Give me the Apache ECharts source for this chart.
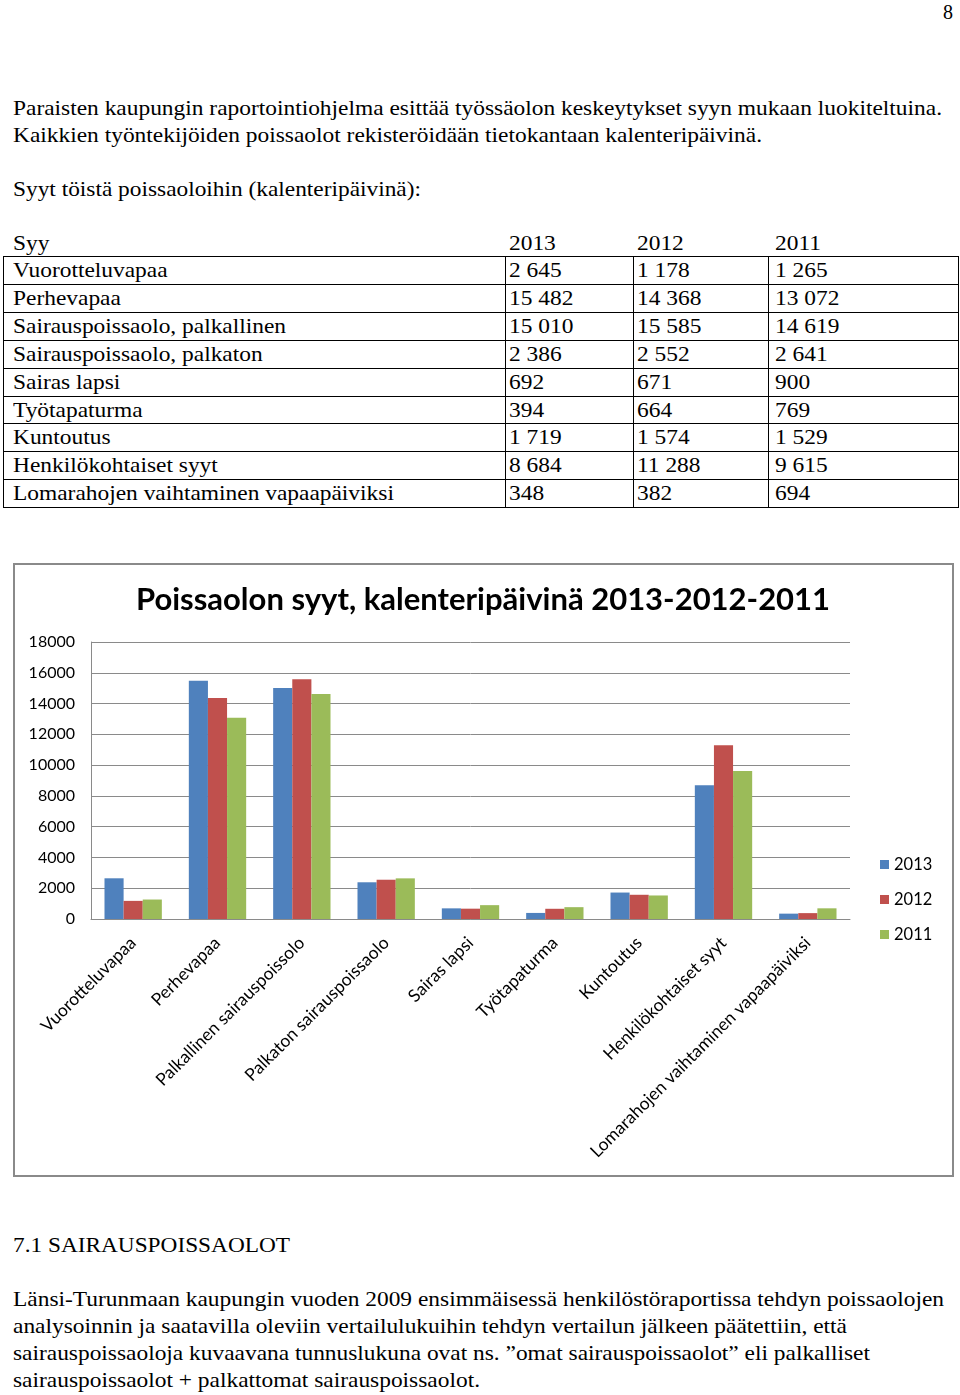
<!DOCTYPE html>
<html>
<head>
<meta charset="utf-8">
<script src="https://cdn.jsdelivr.net/npm/echarts@6/dist/echarts.min.js"></script>
<style>
  html, body { margin: 0; padding: 0; background: #fff; }
  body { width: 960px; height: 1395px; position: relative; overflow: hidden; font-family: "Liberation Serif", Tinos, "Times New Roman", serif; color: #000; }
  .t { position: absolute; white-space: nowrap; font-size: 22px; line-height: 28px; transform-origin: 0 50%; display: inline-block; }
  .hl { position: absolute; background: #000; }
  #chartBox { position: absolute; left: 13px; top: 563px; width: 937px; height: 610px; border: 2px solid #8a8a8a; }
  #chart { width: 937px; height: 610px; }
</style>
</head>
<body>
<div id="page"></div>
<div id="chartBox"><div id="chart"></div></div>
<script>
// ---------- data ----------
const years = ['2013', '2012', '2011'];
const tableLabels = ['Vuorotteluvapaa', 'Perhevapaa', 'Sairauspoissaolo, palkallinen', 'Sairauspoissaolo, palkaton', 'Sairas lapsi', 'Työtapaturma', 'Kuntoutus', 'Henkilökohtaiset syyt', 'Lomarahojen vaihtaminen vapaapäiviksi'];
const categories = ['Vuorotteluvapaa', 'Perhevapaa', 'Palkallinen sairauspoissolo', 'Palkaton sairauspoissaolo', 'Sairas lapsi', 'Työtapaturma', 'Kuntoutus', 'Henkilökohtaiset syyt', 'Lomarahojen vaihtaminen vapaapäiviksi'];
const values2013 = [2645, 15482, 15010, 2386, 692, 394, 1719, 8684, 348];
const values2012 = [1178, 14368, 15585, 2552, 671, 664, 1574, 11288, 382];
const values2011 = [1265, 13072, 14619, 2641, 900, 769, 1529, 9615, 694];
const yTicks = [0, 2000, 4000, 6000, 8000, 10000, 12000, 14000, 16000, 18000];
const chartTitle = 'Poissaolon syyt, kalenteripäivinä 2013-2012-2011';
const introLines = [
  'Paraisten kaupungin raportointiohjelma esittää työssäolon keskeytykset syyn mukaan luokiteltuina.',
  'Kaikkien työntekijöiden poissaolot rekisteröidään tietokantaan kalenteripäivinä.'
];
const tableIntro = 'Syyt töistä poissaoloihin (kalenteripäivinä):';
const tableHead = 'Syy';
const sectionTitle = '7.1 SAIRAUSPOISSAOLOT';
const paraLines = [
  'Länsi-Turunmaan kaupungin vuoden 2009 ensimmäisessä henkilöstöraportissa tehdyn poissaolojen',
  'analysoinnin ja saatavilla oleviin vertailulukuihin tehdyn vertailun jälkeen päätettiin, että',
  'sairauspoissaoloja kuvaavana tunnuslukuna ovat ns. ”omat sairauspoissaolot” eli palkalliset',
  'sairauspoissaolot + palkattomat sairauspoissaolot.'
];

// ---------- document text ----------
const page = document.getElementById('page');
function fmt(n) { return String(n).replace(/\B(?=(\d{3})+(?!\d))/g, ' '); }
function addText(txt, x, cy, targetW, size) {
  const d = document.createElement('div');
  d.className = 't';
  d.textContent = txt;
  d.style.left = x + 'px';
  d.style.top = (cy - 14) + 'px';
  if (size) d.style.fontSize = size + 'px';
  page.appendChild(d);
  d._targetW = targetW;
  return d;
}
function hline(x, y, w) { const d = document.createElement('div'); d.className = 'hl'; d.style.left = x + 'px'; d.style.top = y + 'px'; d.style.width = w + 'px'; d.style.height = '1px'; page.appendChild(d); }
function vline(x, y, h) { const d = document.createElement('div'); d.className = 'hl'; d.style.left = x + 'px'; d.style.top = y + 'px'; d.style.width = '1px'; d.style.height = h + 'px'; page.appendChild(d); }

const fitted = [];
const loose = [];
fitted.push(addText('8', 943, 12, 10));
fitted.push(addText(introLines[0], 13, 108, 929));
fitted.push(addText(introLines[1], 13, 135, 749));
fitted.push(addText(tableIntro, 13, 189, 408));

// table
const colX = [13, 509, 637, 775];
const rowTop = 256, rowH = 27.9;
loose.push(addText(tableHead, colX[0], 243));
years.forEach((y, i) => loose.push(addText(y, colX[i + 1], 243)));
const cols = [values2013, values2012, values2011];
tableLabels.forEach((lab, r) => {
  const cy = rowTop + rowH * r + 14;
  loose.push(addText(lab, colX[0], cy));
  cols.forEach((arr, c) => loose.push(addText(fmt(arr[r]), colX[c + 1], cy)));
});
for (let r = 0; r <= tableLabels.length; r++) hline(3, Math.round(rowTop + rowH * r), 956);
[3, 505, 633, 768, 958].forEach(x => vline(x, rowTop, Math.round(rowH * tableLabels.length) + 1));

fitted.push(addText(sectionTitle, 13, 1245, 277));
const paraW = [931, 834, 857, 467];
paraLines.forEach((l, i) => fitted.push(addText(l, 13, 1299 + 27 * i, paraW[i])));

let k = 1;
fitted.forEach((d, i) => {
  const w = d.getBoundingClientRect().width;
  const s = d._targetW / w;
  d.style.transform = 'scaleX(' + s + ')';
  if (i === 1) k = s;
});
loose.forEach(d => { d.style.transform = 'scaleX(' + k + ')'; });

// ---------- chart ----------
const chart = echarts.init(document.getElementById('chart'), null, { renderer: 'canvas' });
const colors = ['#4F81BD', '#C0504D', '#9BBB59'];
const font = 'Lato, "Open Sans", sans-serif';
chart.setOption({
  animation: false,
  color: colors,
  title: {
    text: chartTitle,
    left: 468, top: 19, textAlign: 'center', padding: 0,
    textStyle: { fontFamily: font, fontWeight: 'bold', fontSize: 31, color: '#000' }
  },
  legend: {
    orient: 'vertical', left: 865, top: 291, padding: 0,
    icon: 'rect', itemWidth: 9, itemHeight: 9, itemGap: 18,
    data: years,
    textStyle: { fontFamily: font, fontSize: 16.5, color: '#000', lineHeight: 16, padding: [0, 0, 0, 0] }
  },
  grid: { left: 76, top: 77, width: 759, height: 277, containLabel: false },
  xAxis: {
    type: 'category', data: categories,
    axisLine: { lineStyle: { color: '#8a8a8a', width: 1 } },
    axisTick: { show: false },
    axisLabel: { interval: 0, rotate: 45, margin: 21, fontFamily: font, fontSize: 17.5, color: '#000' }
  },
  yAxis: {
    type: 'value', min: yTicks[0], max: yTicks[yTicks.length - 1], interval: yTicks[1] - yTicks[0],
    axisLine: { show: true, lineStyle: { color: '#8a8a8a' } },
    axisTick: { show: false },
    splitLine: { lineStyle: { color: '#8a8a8a', width: 1 } },
    axisLabel: { margin: 16, fontFamily: font, fontSize: 16, color: '#000', formatter: v => String(v) }
  },
  series: [
    { name: years[0], type: 'bar', data: values2013, barGap: '0%', barCategoryGap: '32%' },
    { name: years[1], type: 'bar', data: values2012, barGap: '0%', barCategoryGap: '32%' },
    { name: years[2], type: 'bar', data: values2011, barGap: '0%', barCategoryGap: '32%' }
  ]
});
</script>
</body>
</html>
